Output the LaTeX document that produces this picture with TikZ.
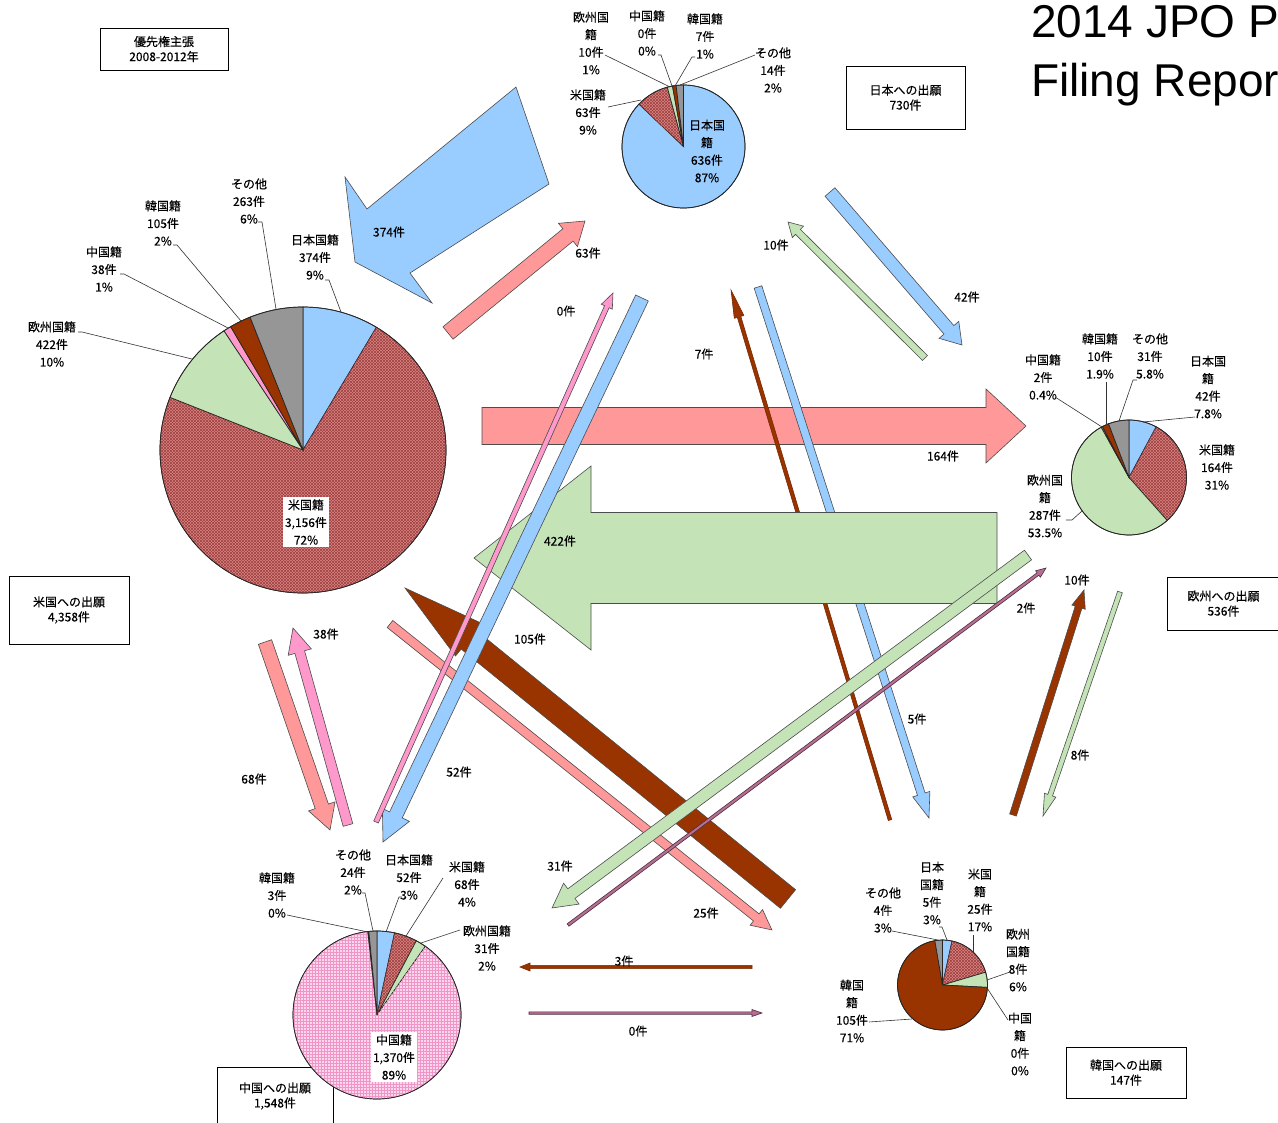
\documentclass[tikz,border=0pt]{standalone}
\usepackage{fontspec}
\newfontfamily\jpf[FakeBold=0.35]{Noto Sans CJK JP}
\newfontfamily\arf{Liberation Sans}
\usetikzlibrary{patterns}
\definecolor{jpblue}{RGB}{153,204,255}
\definecolor{usbase}{RGB}{218,132,132}
\definecolor{ushl}{RGB}{160,66,66}
\definecolor{usarrow}{RGB}{255,153,153}
\definecolor{eugreen}{RGB}{196,228,184}
\definecolor{krbrown}{RGB}{153,51,0}
\definecolor{cnpink}{RGB}{255,153,204}
\definecolor{cnbase}{RGB}{255,214,236}
\definecolor{cngrid}{RGB}{238,150,200}
\definecolor{othgray}{RGB}{150,150,150}
\definecolor{dkline}{RGB}{75,45,60}
% block arrow between two named coordinates
\newcommand\barrow[6]{%
  \path (#1); \pgfgetlastxy{\bxa}{\bya}%
  \path (#2); \pgfgetlastxy{\bxb}{\byb}%
  \pgfmathsetmacro\bang{atan2((\byb)-(\bya),(\bxb)-(\bxa))}%
  \pgfmathsetmacro\blen{veclen((\bxb)-(\bxa),(\byb)-(\bya))}%
  \pgfmathsetmacro\bsh{\blen-#5}%
  \draw[#6,shift={(\bxa,\bya)},rotate=\bang] (0pt,#3pt) -- (\bsh pt,#3pt) -- (\bsh pt,#4pt) -- (\blen pt,0pt) -- (\bsh pt,-#4pt) -- (\bsh pt,-#3pt) -- (0pt,-#3pt) -- cycle;%
}
% pie slice: centre, radius, from angle, to angle (maths angles), style
\newcommand\pslice[5]{\draw[#5] (#1) -- ++({-(#3)}:#2) arc[start angle={-(#3)}, end angle={-(#4)}, radius=#2] -- cycle;}
\begin{document}
\begin{tikzpicture}[x=1pt,y=-1pt,
  lbl/.style={font=\jpf\fontsize{12}{17.5}\selectfont, align=center, inner sep=0pt, text=black},
  boxlbl/.style={font=\jpf\fontsize{12}{15}\selectfont, align=center, inner sep=0pt, draw=black, line width=0.8pt, fill=white},
  ldr/.style={draw=black!80, line width=0.6pt},
  pie/.style={draw=black!85, line width=0.7pt},
  ushatch/.style={pie, fill=usbase, postaction={pattern=north east lines, pattern color=ushl}, postaction={pattern=north west lines, pattern color=ushl}},
  cnhatch/.style={pie, fill=cnbase, postaction={pattern=grid, pattern color=cngrid}},
  arr/.style={draw=black!70, line width=0.6pt},
  ja/.style={arr, fill=jpblue},
  ua/.style={arr, fill=usarrow},
  ea/.style={arr, fill=eugreen},
  ka/.style={arr, fill=krbrown},
  ca/.style={arr, fill=cnpink},
  da/.style={draw=dkline, line width=0.6pt, fill=cnpink!60!dkline},
  kda/.style={draw=krbrown!80!black, line width=0.6pt, fill=krbrown},
]
\useasboundingbox (0,0) rectangle (1278,1123);
\fill[white] (0,0) rectangle (1278,1123);

% ---------- title ----------
\node[anchor=base west, inner sep=0pt, font=\arf\fontsize{46}{56}\selectfont] (t1) at (1031,38) {2014 JPO P};
\node[anchor=base west, inner sep=0pt, font=\arf\fontsize{46}{56}\selectfont] (t2) at (1031,97) {Filing Repor};

% ---------- boxes ----------
\node[boxlbl, minimum width=128pt, minimum height=42pt] (prio) at (164,49) {優先権主張\\2008-2012年};
\node[boxlbl, minimum width=119pt, minimum height=63pt] (jpbox) at (905.5,97.5) {日本への出願\\730件};
\node[boxlbl, minimum width=120pt, minimum height=68pt] (usbox) at (69,610) {米国への出願\\4,358件};
\node[boxlbl, minimum width=113pt, minimum height=53pt] (eubox) at (1223.5,603.5) {欧州への出願\\536件};
\node[boxlbl, minimum width=116pt, minimum height=58pt] (cnbox) at (275,1096) {中国への出願\\1,548件};
\node[boxlbl, minimum width=120pt, minimum height=51pt] (krbox) at (1126,1072.5) {韓国への出願\\147件};

% ---------- pie centres ----------
\coordinate (U) at (303,450);
\coordinate (J) at (683.5,146.5);
\coordinate (E) at (1129,477.5);
\coordinate (C) at (377,1015);
\coordinate (K) at (942.5,985);

% US pie
\pslice{U}{143}{90}{59.11}{pie, fill=jpblue}
\pslice{U}{143}{59.11}{-201.60}{ushatch}
\pslice{U}{143}{-201.60}{-236.46}{pie, fill=eugreen}
\pslice{U}{143}{-236.46}{-239.60}{pie, fill=cnpink}
\pslice{U}{143}{-239.60}{-248.27}{pie, fill=krbrown}
\pslice{U}{143}{-248.27}{-270}{pie, fill=othgray}
\draw[pie] (U) circle[radius=143];
% Japan pie
\pslice{J}{61.5}{90}{-223.64}{pie, fill=jpblue}
\pslice{J}{61.5}{-223.64}{-254.71}{ushatch}
\pslice{J}{61.5}{-254.71}{-259.64}{pie, fill=eugreen}
\pslice{J}{61.5}{-259.64}{-263.09}{pie, fill=krbrown}
\pslice{J}{61.5}{-263.09}{-270}{pie, fill=othgray}
\draw[pie] (J) circle[radius=61.5];
% Europe pie
\pslice{E}{57.5}{90}{61.79}{pie, fill=jpblue}
\pslice{E}{57.5}{61.79}{-48.36}{ushatch}
\pslice{E}{57.5}{-48.36}{-241.12}{pie, fill=eugreen}
\pslice{E}{57.5}{-241.12}{-242.46}{pie, fill=cnpink}
\pslice{E}{57.5}{-242.46}{-249.18}{pie, fill=krbrown}
\pslice{E}{57.5}{-249.18}{-270}{pie, fill=othgray}
\draw[pie] (E) circle[radius=57.5];
% China pie
\pslice{C}{84}{90}{77.91}{pie, fill=jpblue}
\pslice{C}{84}{77.91}{62.10}{ushatch}
\pslice{C}{84}{62.10}{54.89}{pie, fill=eugreen}
\pslice{C}{84}{54.89}{-263.71}{cnhatch}
\pslice{C}{84}{-263.71}{-264.41}{pie, fill=krbrown}
\pslice{C}{84}{-264.41}{-270}{pie, fill=othgray}
\draw[pie] (C) circle[radius=84];
% Korea pie
\pslice{K}{45}{90}{77.76}{pie, fill=jpblue}
\pslice{K}{45}{77.76}{16.54}{ushatch}
\pslice{K}{45}{16.54}{-3.05}{pie, fill=eugreen}
\pslice{K}{45}{-3.05}{-260.19}{pie, fill=krbrown}
\pslice{K}{45}{-260.19}{-270}{pie, fill=othgray}
\draw[pie] (K) circle[radius=45];

% ---------- pie labels ----------
\node[lbl] (uo) at (249,201) {その他\\263件\\6\%};
\draw[ldr] (258,222) -- (262,222) -- (276,309);
\node[lbl] (uj) at (315,257) {日本国籍\\374件\\9\%};
\draw[ldr] (325,280) -- (329,280) -- (341,312);
\node[lbl] (uk) at (163,223) {韓国籍\\105件\\2\%};
\draw[ldr] (173,245) -- (177,245) -- (241,321);
\node[lbl] (uc) at (104,269) {中国籍\\38件\\1\%};
\draw[ldr] (120,274) -- (124,274) -- (228,328);
\node[lbl] (ue) at (52,344) {欧州国籍\\422件\\10\%};
\draw[ldr] (78,332) -- (82,332) -- (192,359);
\node[lbl, fill=white, inner sep=2pt] (uu) at (306,522) {米国籍\\3,156件\\72\%};

\node[lbl] (je) at (591,43) {欧州国\\籍\\10件\\1\%};
\draw[ldr] (605,55) -- (670,87);
\node[lbl] (jc) at (647,33) {中国籍\\0件\\0\%};
\draw[ldr] (658,55) -- (661,55) -- (672,86);
\node[lbl] (jk) at (705,36) {韓国籍\\7件\\1\%};
\draw[ldr] (695,57) -- (692,57) -- (675,86);
\node[lbl] (jo) at (773,70) {その他\\14件\\2\%};
\draw[ldr] (755,55) -- (680,85);
\node[lbl] (ju) at (588,112) {米国籍\\63件\\9\%};
\draw[ldr] (608,107) -- (641,100);
\node[lbl] (jj) at (707,151) {日本国\\籍\\636件\\87\%};

\node[lbl] (ec) at (1043,377) {中国籍\\2件\\0.4\%};
\draw[ldr] (1055,397) -- (1102,427);
\node[lbl] (ek) at (1100,356) {韓国籍\\10件\\1.9\%};
\draw[ldr] (1106,382) -- (1106,425);
\node[lbl] (eo) at (1150,356) {その他\\31件\\5.8\%};
\draw[ldr] (1137,380) -- (1133,380) -- (1119,421);
\node[lbl] (ej) at (1208,387) {日本国\\籍\\42件\\7.8\%};
\draw[ldr] (1195,417) -- (1143,422);
\node[lbl] (eu) at (1217,467) {米国籍\\164件\\31\%};
\node[lbl] (ee) at (1045,506) {欧州国\\籍\\287件\\53.5\%};
\draw[ldr] (1066,520) -- (1072,520) -- (1082,511);

\node[lbl] (ck) at (277,895) {韓国籍\\3件\\0\%};
\draw[ldr] (287,915) -- (368,932);
\node[lbl] (co) at (353,872) {その他\\24件\\2\%};
\draw[ldr] (362,893) -- (365,893) -- (373,931);
\node[lbl] (cj) at (409,877) {日本国籍\\52件\\3\%};
\draw[ldr] (402,897) -- (399,897) -- (386,932);
\node[lbl] (cu) at (467,884) {米国籍\\68件\\4\%};
\draw[ldr] (443,878) -- (406,936);
\node[lbl] (ce) at (487,948) {欧州国籍\\31件\\2\%};
\draw[ldr] (460,930) -- (421,943);
\node[lbl, fill=white, inner sep=2pt] (cc) at (394,1057) {中国籍\\1,370件\\89\%};

\node[lbl] (ko) at (883,910) {その他\\4件\\3\%};
\draw[ldr] (892,931) -- (938,940);
\node[lbl] (kj) at (932,893) {日本\\国籍\\5件\\3\%};
\draw[ldr] (939,927) -- (942,927) -- (947,940);
\node[lbl] (ku) at (980,900) {米国\\籍\\25件\\17\%};
\draw[ldr] (973,935) -- (973,952);
\node[lbl] (ke) at (1018,960) {欧州\\国籍\\8件\\6\%};
\draw[ldr] (1010,972) -- (987,980);
\node[lbl] (kc) at (1020,1044) {中国\\籍\\0件\\0\%};
\draw[ldr] (1008,1020) -- (987,988);
\node[lbl] (kk) at (852,1011) {韓国\\籍\\105件\\71\%};
\draw[ldr] (869,1022) -- (912,1019);

% ---------- big blue arrow (Japan -> US), drawn through its corners ----------
\coordinate (bT1) at (516,87);
\coordinate (bT2) at (549,184);
\coordinate (bN2) at (410,273);
\coordinate (bB2) at (432,303);
\coordinate (bP)  at (355,262);
\coordinate (bB1) at (345,177);
\coordinate (bN1) at (367,209);
\draw[ja] (bT1) -- (bT2) -- (bN2) -- (bB2) -- (bP) -- (bB1) -- (bN1) -- cycle;

% ---------- arrow end points ----------
\coordinate (UJs) at (448,333);  \coordinate (UJe) at (585,221);
\coordinate (JEs) at (830,192);  \coordinate (JEe) at (962,345);
\coordinate (EJs) at (925,358);  \coordinate (EJe) at (788,222);
\coordinate (UEs) at (482,426);  \coordinate (UEe) at (1026,426);
\coordinate (EUs) at (997,558);  \coordinate (EUe) at (474,558);
\coordinate (KUs) at (788,899);  \coordinate (KUe) at (405,588);
\coordinate (UKs) at (390,624);  \coordinate (UKe) at (772,930);
\coordinate (ECs) at (1028,555); \coordinate (ECe) at (552,908);
\coordinate (CEs) at (568,925);  \coordinate (CEe) at (1046,568);
\coordinate (CJs) at (376,822);  \coordinate (CJe) at (613,293);
\coordinate (JCs) at (642,298);  \coordinate (JCe) at (383,842);
\coordinate (KJs) at (890,820);  \coordinate (KJe) at (731,290);
\coordinate (JKs) at (758,287);  \coordinate (JKe) at (929,818);
\coordinate (KEs) at (1013,815); \coordinate (KEe) at (1084,590);
\coordinate (EKs) at (1120,592); \coordinate (EKe) at (1043,816);
\coordinate (UCs) at (265,642);  \coordinate (UCe) at (330,830);
\coordinate (CUs) at (348,825);  \coordinate (CUe) at (293,628);
\coordinate (KCs) at (752,967);  \coordinate (KCe) at (520,967);
\coordinate (CKs) at (529,1013); \coordinate (CKe) at (762,1013);

% ---------- arrows ----------
\barrow{UJs}{UJe}{8}{15}{22}{ua}
\barrow{JEs}{JEe}{6.5}{13}{20}{ja}
\barrow{EJs}{EJe}{3.5}{8}{14}{ea}
\barrow{UEs}{UEe}{18.5}{37}{40}{ua}
\barrow{KJs}{KJe}{1.8}{5}{28}{kda}
\barrow{JKs}{JKe}{4}{9}{25}{ja}
\barrow{EUs}{EUe}{45.5}{92}{117}{ea}
\barrow{KUs}{KUe}{12}{21}{82}{ka}
\barrow{UKs}{UKe}{4.5}{10}{20}{ua}
\barrow{ECs}{ECe}{6}{13}{24}{ea}
\barrow{CEs}{CEe}{1.5}{4}{10}{da}
\barrow{JCs}{JCe}{7}{15}{30}{ja}
\barrow{CJs}{CJe}{2.5}{6}{15}{ca}
\barrow{KEs}{KEe}{3.5}{7}{18}{ka}
\barrow{EKs}{EKe}{2.5}{6}{22}{ea}
\barrow{UCs}{UCe}{7}{14}{25}{ua}
\barrow{CUs}{CUe}{5}{12}{25}{ca}
\barrow{KCs}{KCe}{1.6}{4}{10}{kda}
\barrow{CKs}{CKe}{1.2}{3.5}{10}{da}

% ---------- arrow labels ----------
\node[lbl] (n374) at (389,232) {374件};
\node[lbl] (n63) at (588,253) {63件};
\node[lbl] (n10a) at (776,245) {10件};
\node[lbl] (n42) at (967,297) {42件};
\node[lbl] (n0a) at (566,311) {0件};
\node[lbl] (n7) at (704,354) {7件};
\node[lbl] (n164) at (943,456) {164件};
\node[lbl] (n422) at (560,541) {422件};
\node[lbl] (n105) at (530,639) {105件};
\node[lbl] (n38) at (326,634) {38件};
\node[lbl] (n52) at (459,772) {52件};
\node[lbl] (n68) at (254,779) {68件};
\node[lbl] (n5) at (917,719) {5件};
\node[lbl] (n8) at (1080,755) {8件};
\node[lbl] (n10b) at (1077,580) {10件};
\node[lbl] (n2) at (1026,608) {2件};
\node[lbl] (n31) at (560,866) {31件};
\node[lbl] (n25) at (706,913) {25件};
\node[lbl] (n3) at (624,961) {3件};
\node[lbl] (n0b) at (638,1031) {0件};
\end{tikzpicture}
\end{document}
